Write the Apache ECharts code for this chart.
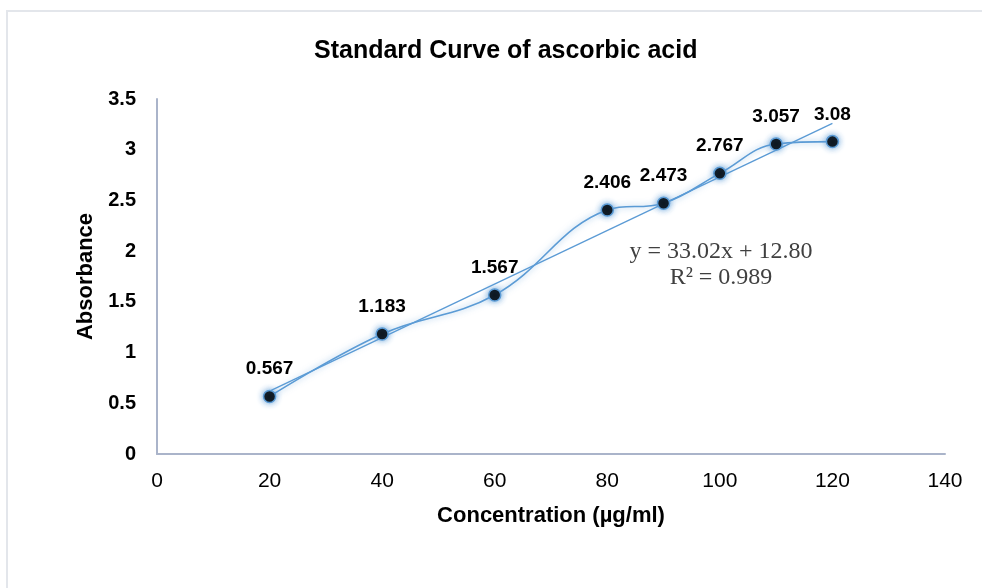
<!DOCTYPE html>
<html><head><meta charset="utf-8">
<script src="https://cdn.jsdelivr.net/npm/echarts@6/dist/echarts.min.js"></script>
<style>html,body{margin:0;padding:0;background:#fff}#c{width:982px;height:588px}</style>
</head><body><div id="c"></div>
<script>
const concentration = [20, 40, 60, 80, 90, 100, 110, 120];
const absorbance = [0.567, 1.183, 1.567, 2.406, 2.473, 2.767, 3.057, 3.08];
const trendX = [20, 120];
const trendY = [0.62, 3.26];
const xTicks = [0, 20, 40, 60, 80, 100, 120, 140];
const yTicks = [0, 0.5, 1, 1.5, 2, 2.5, 3, 3.5];
const equationText = ['y = 33.02x + 12.80', 'R² = 0.989'];

const chart = echarts.init(document.getElementById('c'));
const blue = '#5b9bd5';
const sans = 'Liberation Sans, Arial';
chart.setOption({
  animation: false,
  title: {
    text: 'Standard Curve of ascorbic acid',
    left: 309, top: 34,
    textStyle: { fontFamily: sans, fontWeight: 'bold', fontSize: 25, color: '#000' }
  },
  graphic: [
    { type: 'rect', shape: { x: 7, y: 11, width: 1000, height: 600 }, style: { fill: 'none', stroke: '#e3e6eb', lineWidth: 2 }, z: -10 },
    { type: 'text', x: 721, y: 239, style: { text: equationText.join('\n'), textAlign: 'center', textVerticalAlign: 'top', fontFamily: 'Liberation Serif, Times New Roman', fontSize: 24, lineHeight: 26, fill: '#404040' } }
  ],
  grid: { left: 157, right: 37, top: 99, bottom: 134 },
  xAxis: {
    type: 'value', min: xTicks[0], max: xTicks[xTicks.length - 1], interval: 20,
    name: 'Concentration (µg/ml)', nameLocation: 'middle', nameGap: 51,
    nameTextStyle: { fontFamily: sans, fontWeight: 'bold', fontSize: 22, color: '#000' },
    axisLine: { lineStyle: { color: '#aab4ca', width: 2 } },
    axisTick: { show: false },
    splitLine: { show: false },
    axisLabel: { fontFamily: sans, fontSize: 21, color: '#000', margin: 17 }
  },
  yAxis: {
    type: 'value', min: yTicks[0], max: yTicks[yTicks.length - 1], interval: 0.5,
    name: 'Absorbance', nameLocation: 'middle', nameGap: 54,
    nameTextStyle: { fontFamily: sans, fontWeight: 'bold', fontSize: 22, color: '#000' },
    axisLine: { show: true, lineStyle: { color: '#aab4ca', width: 2 } },
    axisTick: { show: false },
    splitLine: { show: false },
    axisLabel: { fontFamily: sans, fontWeight: 'bold', fontSize: 20, color: '#000', margin: 21 }
  },
  series: [
    {
      type: 'line',
      data: trendX.map((x, i) => [x, trendY[i]]),
      showSymbol: false, silent: true,
      lineStyle: { color: blue, width: 1.3 },
      z: 3
    },
    {
      type: 'line',
      data: concentration.map((x, i) => [x, absorbance[i]]),
      smooth: 0.4,
      symbol: 'circle', symbolSize: 12,
      lineStyle: { color: blue, width: 1.6, shadowColor: 'rgba(91,155,213,0.7)', shadowBlur: 6 },
      itemStyle: { color: '#000', borderColor: blue, borderWidth: 1.5, shadowColor: 'rgba(91,155,213,0.9)', shadowBlur: 6 },
      label: {
        show: true, position: 'top', distance: 11,
        fontFamily: sans, fontWeight: 'bold', fontSize: 19, color: '#000',
        formatter: p => String(p.value[1])
      },
      z: 4
    }
  ]
});
</script></body></html>
